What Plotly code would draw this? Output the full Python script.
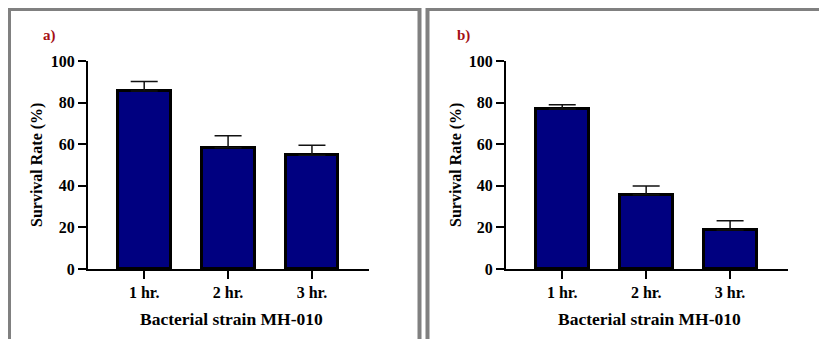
import plotly.graph_objects as go

W, H = 827, 339
OFF = 8  # page body margin offset

categories = ["1 hr.", "2 hr.", "3 hr."]
survival_a = [85.6, 58.3, 54.7]
error_a = [4.6, 5.8, 4.8]
survival_b = [76.9, 35.7, 18.8]
error_b = [2.1, 4.2, 4.4]
panel_labels = ["a)", "b)"]
x_title = "Bacterial strain MH-010"
y_title = "Survival Rate (%)"
y_ticks = [0, 20, 40, 60, 80, 100]

FONT = "Liberation Serif, Times New Roman, serif"
NAVY = "#000080"


def px_x(p):
    return (p - OFF) / W


def px_y(p):
    return 1 - (p - OFF) / H


fig = go.Figure()

panels = [
    (survival_a, error_a, "x", "y"),
    (survival_b, error_b, "x2", "y2"),
]

for vals, errs, xa, ya in panels:
    fig.add_trace(go.Bar(
        x=list(range(len(categories))), y=vals,
        xaxis=xa, yaxis=ya,
        width=0.63,
        marker=dict(color=NAVY, line=dict(color="black", width=3)),
        error_y=dict(type="data", symmetric=False, array=errs,
                     arrayminus=[0] * len(errs),
                     color="#111111", thickness=1.5, width=13.5),
        showlegend=False,
    ))

tickfont = dict(family=FONT, size=16, color="black", weight="bold")
ydom = [px_y(269), px_y(61)]
axis_common = dict(showline=True, linecolor="black", linewidth=2,
                   ticks="outside", tickwidth=2, tickcolor="black",
                   ticklen=8, showgrid=False, zeroline=False,
                   automargin=False, tickfont=tickfont)

fig.update_layout(
    width=W, height=H,
    margin=dict(l=0, r=0, t=0, b=0, autoexpand=False),
    paper_bgcolor="white", plot_bgcolor="white",
    bargap=0,
    xaxis=dict(domain=[px_x(88), px_x(369)], anchor="y",
               range=[-0.67, 2.68], tickvals=[0, 1, 2], ticktext=categories,
               **axis_common),
    yaxis=dict(domain=ydom, anchor="x", range=[0, 100],
               tickvals=y_ticks, **axis_common),
    xaxis2=dict(domain=[px_x(506), px_x(788)], anchor="y2",
                range=[-0.67, 2.69], tickvals=[0, 1, 2], ticktext=categories,
                **axis_common),
    yaxis2=dict(domain=ydom, anchor="x2", range=[0, 100],
                tickvals=y_ticks, **axis_common),
)

# panel borders
border = "#808080"
fig.add_shape(type="rect", xref="paper", yref="paper",
              x0=px_x(9), x1=px_x(419.5), y0=px_y(380), y1=px_y(9),
              line=dict(color=border, width=4), fillcolor="rgba(0,0,0,0)", layer="below")
fig.add_shape(type="rect", xref="paper", yref="paper",
              x0=px_x(427.5), x1=px_x(880), y0=px_y(380), y1=px_y(9),
              line=dict(color=border, width=4), fillcolor="rgba(0,0,0,0)", layer="below")

# titles and labels
xt_font = dict(family=FONT, size=17.5, color="black", weight="bold")
yt_font = dict(family=FONT, size=16, color="black", weight="bold")
for xc, yc_axis in [(231, 37), (649, 456)]:
    fig.add_annotation(xref="paper", yref="paper", x=px_x(xc), y=px_y(319),
                       text=x_title, showarrow=False, font=xt_font,
                       xanchor="center", yanchor="middle")
    fig.add_annotation(xref="paper", yref="paper", x=px_x(yc_axis), y=px_y(165),
                       text=y_title, showarrow=False, textangle=-90,
                       font=yt_font, xanchor="center", yanchor="middle")

for lab, lx in zip(panel_labels, [41, 455]):
    fig.add_annotation(xref="paper", yref="paper", x=px_x(lx), y=px_y(35),
                       text=lab, showarrow=False,
                       font=dict(family=FONT, size=15, color="#A50F15", weight="bold"),
                       xanchor="left", yanchor="middle")

fig.write_html("out.html")
